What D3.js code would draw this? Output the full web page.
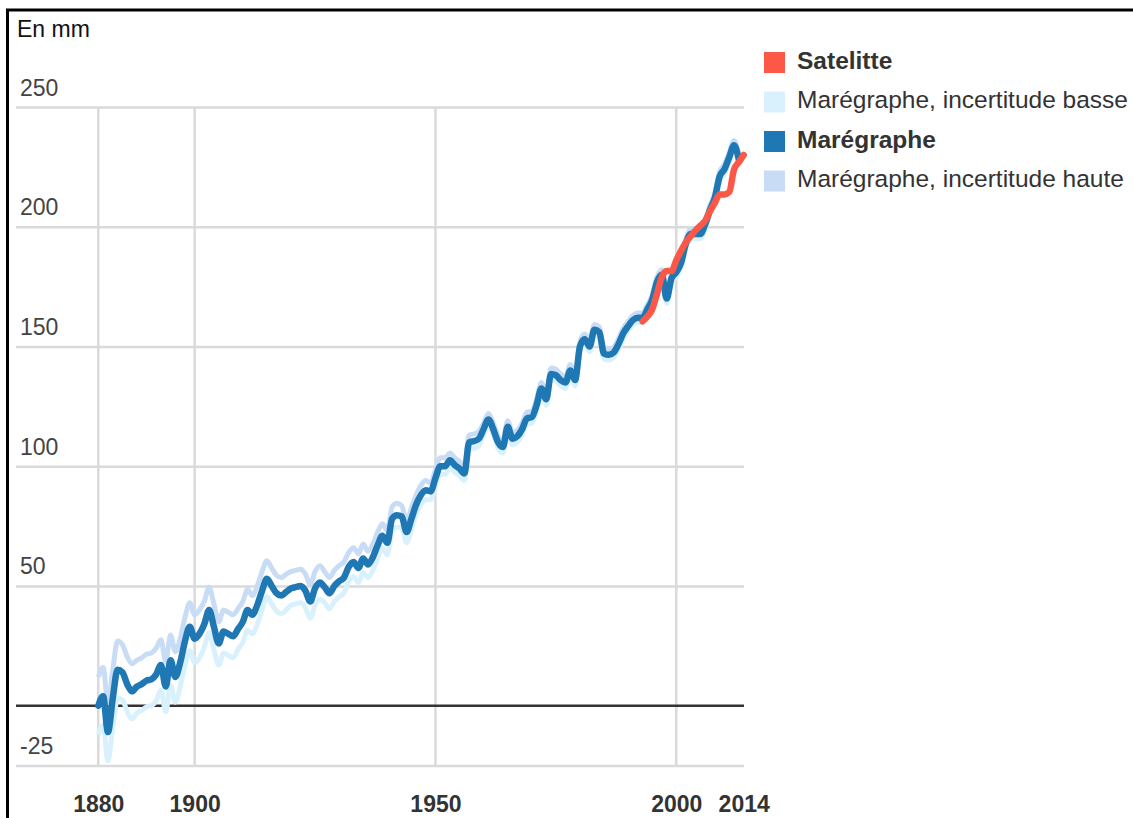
<!DOCTYPE html>
<html lang="fr">
<head>
<meta charset="utf-8">
<script src="https://cdn.jsdelivr.net/npm/d3@7"></script>
<style>
  html, body { margin: 0; padding: 0; background: #fff; }
  svg { display: block; font-family: "Liberation Sans", Arial, sans-serif; }
</style>
</head>
<body>
<svg id="chart" width="1133" height="818"></svg>
<script>
// Niveau moyen des mers, en mm (référence 1880)
const tideYears = d3.range(1880, 2014);
const tideValues = [
  0, 4, -11, 3, 15, 14, 9, 6, 8, 9,
  10.5, 11, 13, 17, 8, 19, 12, 18, 27, 33,
  28, 30, 34, 40, 33, 26, 31, 30, 29, 32,
  35, 40, 38, 42, 48, 53, 50, 47, 46, 47.5,
  49, 49.5, 50, 48, 43.5, 49, 51.5, 49.5, 47, 50,
  52, 53.5, 58, 60, 57.5, 61.5, 59, 62, 67, 71,
  68, 78, 79.5, 79, 72.5, 78, 84, 88, 90, 89.5,
  95, 100, 100, 102.5, 100.5, 99, 97, 110, 110.5, 111.5,
  115.5, 119.5, 115.5, 110, 108, 116.5, 111.5, 112.5, 115.5, 120,
  120.5, 125.5, 132.5, 128, 138.5, 138, 136, 135, 140, 136,
  150, 153, 150, 157, 156, 147, 146.5, 147.5, 151, 155.5,
  158.5, 161, 162, 162, 165.5, 169.5, 177, 180, 170, 178.5,
  181, 185, 193, 197, 197, 197, 201, 207, 212, 221,
  224, 229, 234, 228
];
// Incertitude du marégraphe (± mm)
const tideUncertainty = [
  12, 12, 12, 12, 12, 11.5, 11.5, 11.5, 11, 11,
  11, 11, 11, 10.5, 10.5, 10.5, 10.5, 10, 10, 10,
  10, 10, 9.5, 9.5, 9.5, 9, 9, 9, 9, 8.5,
  8.5, 8.5, 8, 8, 8, 7.5, 7.5, 7.5, 7.5, 7.5,
  7, 7, 7, 7, 7, 7, 7, 6.5, 6.5, 6.5,
  6.5, 6.5, 6, 6, 6, 6, 5.5, 5.5, 5.5, 5,
  5, 5, 5, 4.5, 4.5, 4.5, 4, 4, 4, 3.5,
  3.5, 3.5, 3.5, 3, 3, 3, 3, 3, 3, 3,
  2.5, 2.5, 2.5, 2.5, 2.5, 2.5, 2.5, 2.5, 2.5, 2.5,
  2.5, 2.5, 2.5, 2.5, 2.5, 2.5, 2.5, 2.5, 2.5, 2.5,
  2.2, 2.2, 2.2, 2.2, 2.2, 2.2, 2.2, 2.2, 2.2, 2.2,
  2, 2, 2, 2, 2, 2, 2, 2, 2, 2,
  2, 2, 2, 2, 2, 2, 2, 2, 2, 2,
  2, 2, 2, 2
];
const satYears = d3.range(1993, 2015);
const satValues = [
  160.5, 162.5, 165.5, 172, 179, 181.5, 181.5, 186, 190, 193.5,
  196, 198.5, 200.5, 202.5, 206.5, 210, 213.5, 213.5, 214.5, 224,
  227, 230
];
const yTickValues = [-25, 50, 100, 150, 200, 250];
const xTickValues = [1880, 1900, 1950, 2000, 2014];
const xGridValues = [1880, 1900, 1950, 2000];
const legendLabels = ["Satelitte", "Marégraphe, incertitude basse", "Marégraphe", "Marégraphe, incertitude haute"];

const colors = {
  sat: "#fb5848",
  low: "#d8f1fd",
  tide: "#1f77b4",
  high: "#c8ddf5"
};

const svg = d3.select("#chart");
const plotLeft = 16, plotRight = 744, plotTop = 107, plotBottom = 765.6;

const x = d3.scaleLinear().domain([1880, 2014]).range([98.3, 743.7]);
const y = d3.scaleLinear().domain([-25, 250]).range([plotBottom, plotTop]);

// cadre (ouvert à droite et en bas)
svg.append("rect")
  .attr("x", 7.5).attr("y", 10).attr("width", 1140).attr("height", 830)
  .attr("fill", "none").attr("stroke", "#000").attr("stroke-width", 3);

// titre de l'axe
svg.append("text")
  .attr("x", 17).attr("y", 37)
  .attr("font-size", 23).attr("fill", "#111")
  .text("En mm");

// grille verticale
svg.append("g").selectAll("line").data(xGridValues).join("line")
  .attr("x1", d => x(d)).attr("x2", d => x(d))
  .attr("y1", plotTop).attr("y2", plotBottom)
  .attr("stroke", "#dadada").attr("stroke-width", 2.5);

// axe vertical + grille horizontale
const yAxis = svg.append("g")
  .attr("transform", `translate(${plotLeft},0)`)
  .call(d3.axisLeft(y).tickValues(yTickValues).tickFormat(d => String(d))
    .tickSize(-(plotRight - plotLeft)).tickPadding(0));
yAxis.select(".domain").remove();
yAxis.selectAll(".tick line").attr("stroke", "#dadada").attr("stroke-width", 2.5);
yAxis.selectAll(".tick text")
  .attr("x", 4).attr("dy", -12)
  .attr("text-anchor", "start")
  .attr("font-size", 23).attr("fill", "#444")
  .attr("font-family", "\"Liberation Sans\", Arial, sans-serif");

// axe horizontal
const xAxis = svg.append("g")
  .attr("transform", `translate(0,${plotBottom})`)
  .call(d3.axisBottom(x).tickValues(xTickValues).tickFormat(d => String(d)).tickSize(0).tickPadding(30));
xAxis.select(".domain").remove();
xAxis.selectAll(".tick text")
  .attr("font-size", 23).attr("font-weight", "bold").attr("fill", "#333")
  .attr("font-family", "\"Liberation Sans\", Arial, sans-serif");

// ligne zéro
svg.append("line")
  .attr("x1", plotLeft).attr("x2", plotRight)
  .attr("y1", y(0)).attr("y2", y(0))
  .attr("stroke", "#333").attr("stroke-width", 2.5);

const tide = tideYears.map((yr, i) => ({ yr, v: tideValues[i], e: tideUncertainty[i] }));
const sat = satYears.map((yr, i) => ({ yr, v: satValues[i] }));

const lineOf = acc => d3.line().x(d => x(d.yr)).y(d => y(acc(d))).curve(d3.curveMonotoneX);

svg.append("path").datum(tide)
  .attr("d", lineOf(d => d.v + d.e))
  .attr("fill", "none").attr("stroke", colors.high).attr("stroke-width", 5)
  .attr("stroke-linejoin", "round");
svg.append("path").datum(tide)
  .attr("d", lineOf(d => d.v - d.e))
  .attr("fill", "none").attr("stroke", colors.low).attr("stroke-width", 5)
  .attr("stroke-linejoin", "round");
svg.append("path").datum(tide)
  .attr("d", lineOf(d => d.v))
  .attr("fill", "none").attr("stroke", colors.tide).attr("stroke-width", 6.5)
  .attr("stroke-linejoin", "round").attr("stroke-linecap", "round");
svg.append("path").datum(sat)
  .attr("d", lineOf(d => d.v))
  .attr("fill", "none").attr("stroke", colors.sat).attr("stroke-width", 6.5)
  .attr("stroke-linejoin", "round").attr("stroke-linecap", "round");

// légende
const legendColors = [colors.sat, colors.low, colors.tide, colors.high];
const legendBold = [true, false, true, false];
const legend = svg.append("g").selectAll("g").data(legendLabels).join("g")
  .attr("transform", (d, i) => `translate(764,${52 + i * 39.5})`);
legend.append("rect")
  .attr("width", 21).attr("height", 21)
  .attr("fill", (d, i) => legendColors[i]);
legend.append("text")
  .attr("x", 33).attr("y", 16.5)
  .attr("font-size", 24.5)
  .attr("font-weight", (d, i) => legendBold[i] ? "bold" : "normal")
  .attr("fill", "#333")
  .text(d => d);
</script>
</body>
</html>
